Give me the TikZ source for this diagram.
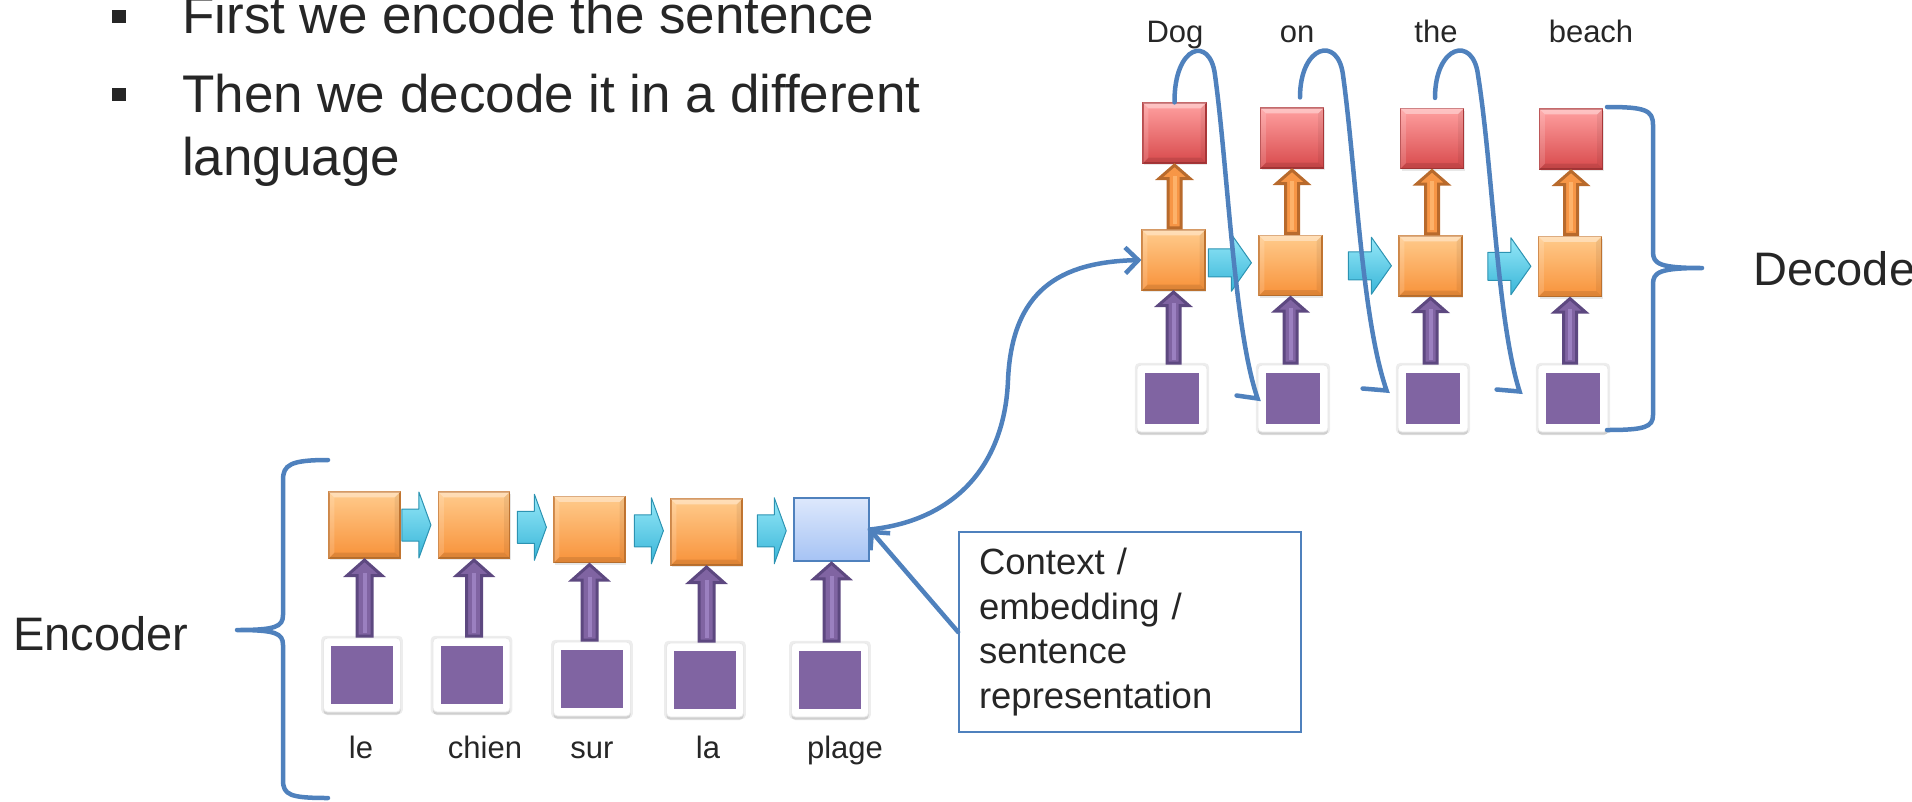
\documentclass[tikz,border=0pt]{standalone}
\usepackage{fontspec}
\setmainfont{Liberation Sans}
\usetikzlibrary{calc,arrows.meta,shadows}
\definecolor{txt}{HTML}{262626}
\definecolor{orT}{HTML}{FFCB8C}
\definecolor{orB}{HTML}{F8923A}
\definecolor{orBd}{HTML}{C97A33}
\definecolor{rdT}{HTML}{FFA0A0}
\definecolor{rdB}{HTML}{D84A4C}
\definecolor{rdBd}{HTML}{B23A3C}
\definecolor{bvT}{HTML}{DDE8FC}
\definecolor{bvB}{HTML}{A6C3F4}
\definecolor{lnBlue}{HTML}{4F81BD}
\definecolor{cyT}{HTML}{96E8F8}
\definecolor{cyB}{HTML}{38B5D8}
\definecolor{cyBd}{HTML}{2C93B2}
\definecolor{pu}{HTML}{8064A2}
\definecolor{puBd}{HTML}{5D4880}
\definecolor{puS}{HTML}{9B80C0}
\definecolor{orAr}{HTML}{F79646}
\definecolor{orArBd}{HTML}{B86A2C}
\definecolor{orS}{HTML}{FDB26A}

% block arrow pointing up: style, stripe colour, lower node, upper node, head length, half body, half head
\newcommand{\blkup}[7]{%
  \path[#1] let \p1=(#3.north), \p2=(#4.south) in
    (\x2-#6,\y1+1.5pt) -- (\x2-#6,\y2-#5) -- (\x2-#7,\y2-#5) -- (\x2,\y2-1.5pt)
    -- (\x2+#7,\y2-#5) -- (\x2+#6,\y2-#5) -- (\x2+#6,\y1+1.5pt) -- cycle;
  \fill[#2] let \p1=(#3.north), \p2=(#4.south) in
    (\x2-2pt,\y1+5pt) rectangle (\x2+2pt,\y2-#5+3pt);
}
% block arrow pointing right: from node, to node, total length, head length, half body, half head
\newcommand{\blkright}[6]{%
  \path[cyanarr] let \p1=(#1.east), \p2=(#2.west), \n1={0.5*\y1+0.5*\y2} in
    (\x2-7pt-#3,\n1+#5) -- (\x2-7pt-#4,\n1+#5) -- (\x2-7pt-#4,\n1+#6) -- (\x2-7pt,\n1+0pt)
    -- (\x2-7pt-#4,\n1-#6) -- (\x2-7pt-#4,\n1-#5) -- (\x2-7pt-#3,\n1-#5) -- cycle;
}
% bevel highlight of a box
\newcommand{\bevelbox}[1]{%
  \fill[white,opacity=0.38] (#1.north west) -- (#1.north east) -- ([shift={(-6pt,-6pt)}]#1.north east) -- ([shift={(6pt,-6pt)}]#1.north west) -- cycle;
  \fill[black,opacity=0.10] (#1.south west) -- (#1.south east) -- ([shift={(-6pt,6pt)}]#1.south east) -- ([shift={(6pt,6pt)}]#1.south west) -- cycle;
  \fill[black,opacity=0.06] (#1.north east) -- (#1.south east) -- ([shift={(-6pt,6pt)}]#1.south east) -- ([shift={(-6pt,-6pt)}]#1.north east) -- cycle;
  \fill[white,opacity=0.15] (#1.north west) -- (#1.south west) -- ([shift={(6pt,6pt)}]#1.south west) -- ([shift={(6pt,-6pt)}]#1.north west) -- cycle;
}

\tikzset{
  hidbox/.style={draw=orBd, line width=1.2pt, top color=orT, bottom color=orB,
    minimum width=71pt, minimum height=66pt, inner sep=0pt,
    drop shadow={shadow xshift=1pt, shadow yshift=-2pt, opacity=0.18}},
  dhidbox/.style={hidbox, minimum width=63pt, minimum height=60pt},
  redbox/.style={draw=rdBd, line width=1.2pt, top color=rdT, bottom color=rdB,
    minimum width=63pt, minimum height=60pt, inner sep=0pt,
    drop shadow={shadow xshift=1pt, shadow yshift=-2pt, opacity=0.18}},
  ctxvec/.style={draw=lnBlue, line width=1.5pt, top color=bvT, bottom color=bvB,
    minimum width=75pt, minimum height=63pt, inner sep=0pt},
  inbox/.style={fill=white, draw=black!9, line width=0.8pt, rounded corners=4pt, inner sep=0pt,
    general shadow={fill=black, opacity=0.07, shadow scale=1.06},
    drop shadow={shadow xshift=0pt, shadow yshift=-3pt, opacity=0.28}},
  encin/.style={inbox, minimum width=77pt, minimum height=74pt},
  decin/.style={inbox, minimum width=70pt, minimum height=67pt},
  encpu/.style={fill=pu, inner sep=0pt, minimum width=62pt, minimum height=58pt},
  decpu/.style={fill=pu, inner sep=0pt, minimum width=54pt, minimum height=51pt},
  cyanarr/.style={draw=cyBd, line width=1pt, top color=cyT, bottom color=cyB, line join=round},
  puarr/.style={draw=puBd, line width=3pt, fill=pu},
  orarr/.style={draw=orArBd, line width=3pt, fill=orAr},
  blueline/.style={draw=lnBlue, line width=4.5pt, line cap=round},
  bluearrow/.style={blueline, -{Straight Barb[length=13pt,width=26pt]}},
  brace/.style={draw=lnBlue, line width=4.5pt, line cap=round, line join=round},
  lbl/.style={text=txt, font=\fontsize{31}{37}\selectfont, inner sep=0pt, anchor=base},
  side/.style={text=txt, font=\fontsize{47}{55}\selectfont, inner sep=0pt, anchor=base west},
  bullettext/.style={text=txt, font=\fontsize{53}{63}\selectfont, inner sep=0pt, anchor=base west},
  bul/.style={fill=txt, inner sep=0pt, minimum width=14pt, minimum height=13pt},
  ctxstyle/.style={draw=lnBlue, line width=1.8pt, minimum width=342pt, minimum height=200pt,
    text width=302pt, align=left, inner xsep=20pt, text=txt,
    font=\fontsize{36.5}{44.5}\selectfont},
}

\begin{document}
\begin{tikzpicture}[x=1pt,y=-1pt]
\useasboundingbox (0,0) rectangle (1912,801);
\clip (0,0) rectangle (1912,801);

% ---------- bullet text ----------
\node[bul] (bu1) at (119,16.5) {};
\node[bul] (bu2) at (119,94.5) {};
\node[bullettext] (t1) at (182,33) {First we encode the sentence};
\node[bullettext] (t2) at (182,112) {Then we decode it in a different};
\node[bullettext] (t3) at (182,175) {language};

% ---------- encoder ----------
\foreach \i/\x/\y in {1/362/675, 2/471.5/675, 3/592/679, 4/705/680, 5/830/680}{
  \node[encin] (in\i) at (\x,\y) {};
  \node[encpu] (ip\i) at (\x,\y) {};
}
\node[hidbox] (h1) at (364.5,525) {};
\node[hidbox] (h2) at (474,525) {};
\node[hidbox] (h3) at (589.5,529.5) {};
\node[hidbox] (h4) at (706.5,532) {};
\node[ctxvec] (cv) at (831.5,529.5) {};
\foreach \n in {h1,h2,h3,h4}{\bevelbox{\n}}

\blkup{puarr}{puS}{in1}{h1}{17pt}{7.5pt}{17.5pt}
\blkup{puarr}{puS}{in2}{h2}{17pt}{7.5pt}{17.5pt}
\blkup{puarr}{puS}{in3}{h3}{17pt}{7.5pt}{17.5pt}
\blkup{puarr}{puS}{in4}{h4}{17pt}{7.5pt}{17.5pt}
\blkup{puarr}{puS}{in5}{cv}{17pt}{7.5pt}{17.5pt}

\blkright{h1}{h2}{29pt}{12pt}{16pt}{33pt}
\blkright{h2}{h3}{29pt}{12pt}{16pt}{33pt}
\blkright{h3}{h4}{29pt}{12pt}{16pt}{33pt}
\blkright{h4}{cv}{29pt}{12pt}{16pt}{33pt}

\node[lbl] (w1) at (361,758) {le};
\node[lbl] (w2) at (485,758) {chien};
\node[lbl] (w3) at (592,758) {sur};
\node[lbl] (w4) at (708,758) {la};
\node[lbl] (w5) at (845,758) {plage};

\node[side] (enc) at (13,650) {Encoder};
\draw[brace] (328,460) .. controls (290,460) and (283,465) .. (283,480) -- (283,615)
  .. controls (283,627) and (275,630) .. (237,630)
  .. controls (275,630) and (283,633) .. (283,645) -- (283,780)
  .. controls (283,795) and (290,798) .. (328,798);

% ---------- decoder ----------
\foreach \i/\x in {1/1172, 2/1293, 3/1433, 4/1573}{
  \node[decin] (din\i) at (\x,398.5) {};
  \node[decpu] (dip\i) at (\x,398.5) {};
}
\node[dhidbox] (d1) at (1173.5,260) {};
\node[dhidbox] (d2) at (1290.5,265.5) {};
\node[dhidbox] (d3) at (1430.5,266) {};
\node[dhidbox] (d4) at (1570,266.5) {};
\node[redbox] (r1) at (1174.5,133) {};
\node[redbox] (r2) at (1292,138) {};
\node[redbox] (r3) at (1432,138.5) {};
\node[redbox] (r4) at (1571,139) {};
\foreach \n in {d1,d2,d3,d4,r1,r2,r3,r4}{\bevelbox{\n}}

\foreach \i in {1,2,3,4}{
  \blkup{puarr}{puS}{din\i}{d\i}{15pt}{6.5pt}{15.5pt}
  \blkup{orarr}{orS}{d\i}{r\i}{15pt}{6.5pt}{15.5pt}
}
\blkright{d1}{d2}{43pt}{20pt}{14pt}{28.5pt}
\blkright{d2}{d3}{43pt}{20pt}{14pt}{28.5pt}
\blkright{d3}{d4}{43pt}{20pt}{14pt}{28.5pt}

\node[lbl] (o1) at (1175,42) {Dog};
\node[lbl] (o2) at (1297,42) {on};
\node[lbl] (o3) at (1436,42) {the};
\node[lbl] (o4) at (1591,42) {beach};

\node[side] (dec) at (1753,285) {Decoder};
\draw[brace] (1607,107) .. controls (1645,107) and (1653,110) .. (1653,125) -- (1653,252)
  .. controls (1653,264) and (1660,268) .. (1702,268)
  .. controls (1660,268) and (1653,272) .. (1653,284) -- (1653,415)
  .. controls (1653,427) and (1645,430) .. (1607,430);

% ---------- context ----------
\node[ctxstyle] (ctx) at (1130,632) {Context /\\embedding /\\sentence\\representation};
\draw[bluearrow] (ctx.west) -- (cv.east);
\draw[bluearrow] (cv.east) .. controls (960,520) and (1005,460) .. (1008,380)
  .. controls (1012,290) and (1060,262) .. (d1.west);

% ---------- feedback loops ----------
\draw[blueline] (r1.north) .. controls (1174,45) and (1210,35) .. (1215,75)
  .. controls (1228,170) and (1234,330) .. (din2.west) -- ++(-21,-3);
\draw[blueline] ($(r2.north)+(8,-10)$) .. controls (1300,45) and (1338,35) .. (1343,75)
  .. controls (1356,170) and (1362,320) .. ($(din3.west)+(-11,-8)$) -- ++(-24,-2);
\draw[blueline] ($(r3.north)+(3,-10)$) .. controls (1435,45) and (1473,35) .. (1478,75)
  .. controls (1493,170) and (1497,320) .. ($(din4.west)+(-18,-7)$) -- ++(-23,-2);
\end{tikzpicture}
\end{document}
